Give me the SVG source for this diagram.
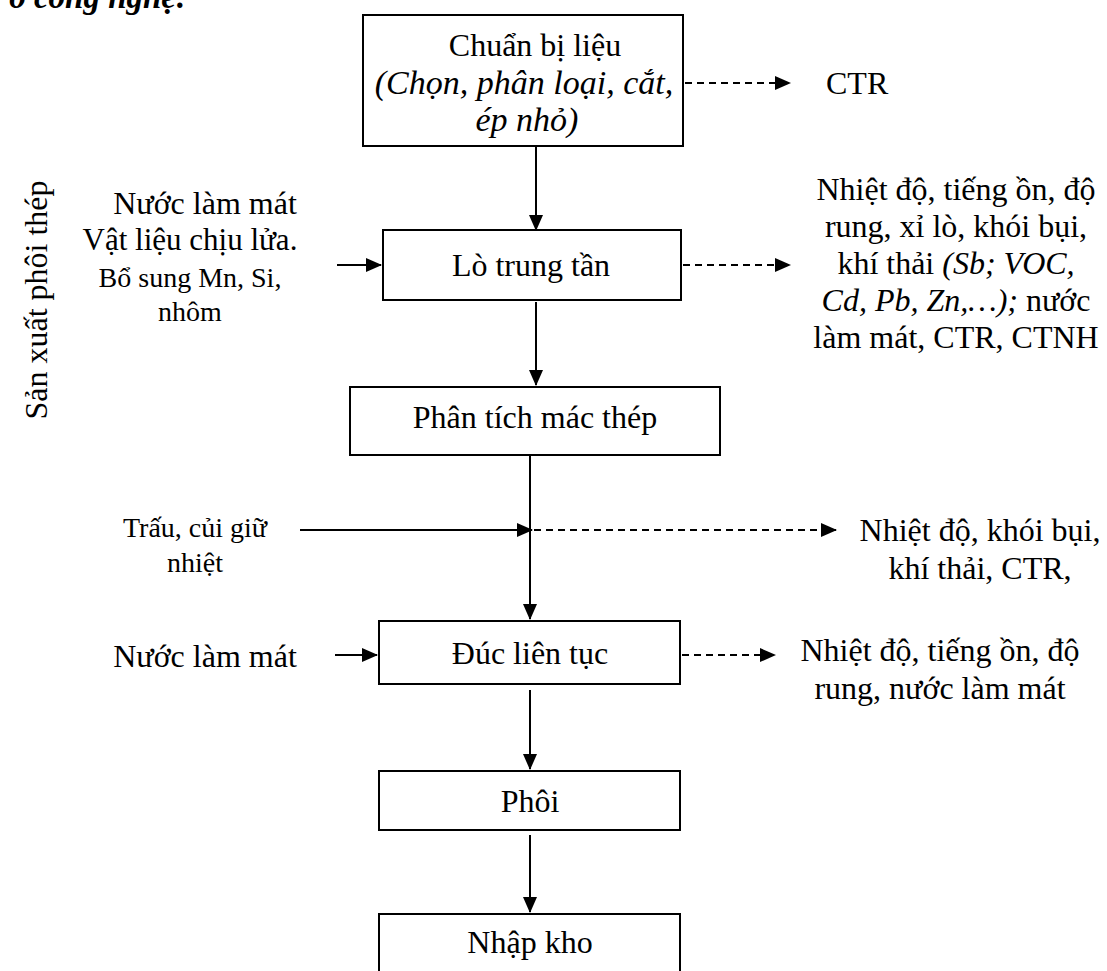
<svg xmlns="http://www.w3.org/2000/svg" width="1107" height="971" viewBox="0 0 1107 971">
<style>
text{font-family:"Liberation Serif","Times New Roman",serif;font-size:32px;fill:#000}
.c{text-anchor:middle}
.s{font-size:28px}
.i{font-style:italic}
.box{fill:#fff;stroke:#000;stroke-width:2}
.ln{fill:none;stroke:#000;stroke-width:2}
.ds{fill:none;stroke:#000;stroke-width:2;stroke-dasharray:7,5}
</style>
<defs>
<marker id="ah" markerUnits="userSpaceOnUse" markerWidth="16" markerHeight="14" refX="15" refY="7" orient="auto">
<path d="M0,0 L16,7 L0,14 Z" fill="#000"/>
</marker>
</defs>
<rect width="1107" height="971" fill="#fff"/>
<text x="187" y="8" style="font-weight:bold;font-style:italic;text-anchor:end;font-size:33px">ồ công nghệ:</text>
<text transform="translate(47,300) rotate(-90)" class="c">Sản xuất phôi thép</text>

<g id="connectors">
<line class="ln" x1="536" y1="146" x2="536" y2="230" marker-end="url(#ah)"/>
<line class="ln" x1="536" y1="302" x2="536" y2="385" marker-end="url(#ah)"/>
<line class="ln" x1="530" y1="455" x2="530" y2="619" marker-end="url(#ah)"/>
<line class="ln" x1="530" y1="690" x2="530" y2="769" marker-end="url(#ah)"/>
<line class="ln" x1="530" y1="835" x2="530" y2="912" marker-end="url(#ah)"/>
<line class="ds" x1="685" y1="83" x2="790" y2="83" marker-end="url(#ah)"/>
<line class="ln" x1="337" y1="265" x2="381" y2="265" marker-end="url(#ah)"/>
<line class="ds" x1="683" y1="265" x2="790" y2="265" marker-end="url(#ah)"/>
<line class="ln" x1="300" y1="530" x2="532" y2="530" marker-end="url(#ah)"/>
<line class="ds" x1="534" y1="530" x2="836" y2="530" marker-end="url(#ah)"/>
<line class="ln" x1="335" y1="655" x2="377" y2="655" marker-end="url(#ah)"/>
<line class="ds" x1="682" y1="655" x2="775" y2="655" marker-end="url(#ah)"/>
</g>

<g id="n1">
<rect class="box" x="363" y="15" width="320" height="131"/>
<text class="c" x="535" y="56">Chuẩn bị liệu</text>
<text class="c i" x="524" y="94" style="font-size:34px">(Chọn, phân loại, cắt,</text>
<text class="c i" x="527" y="131" style="font-size:34px">ép nhỏ)</text>
</g>
<g id="o1"><text x="826" y="94">CTR</text></g>

<g id="n2">
<rect class="box" x="383" y="230" width="298" height="70"/>
<text class="c" x="531" y="276">Lò trung tần</text>
</g>
<g id="i2">
<text class="c" x="205" y="214">Nước làm mát</text>
<text class="c" x="190" y="250" style="font-size:31px">Vật liệu chịu lửa.</text>
<text class="c s" x="190" y="287">Bổ sung Mn, Si,</text>
<text class="c s" x="190" y="321">nhôm</text>
</g>
<g id="o2">
<text class="c" x="956" y="200">Nhiệt độ, tiếng ồn, độ</text>
<text class="c" x="956" y="237">rung, xỉ lò, khói bụi,</text>
<text class="c" x="956" y="274"><tspan>khí thải </tspan><tspan class="i">(Sb; VOC,</tspan></text>
<text class="c" x="956" y="311"><tspan class="i">Cd, Pb, Zn,…);</tspan><tspan> nước</tspan></text>
<text class="c" x="956" y="348">làm mát, CTR, CTNH</text>
</g>

<g id="n3">
<rect class="box" x="350" y="387" width="370" height="68"/>
<text class="c" x="535" y="428">Phân tích mác thép</text>
</g>
<g id="i3">
<text class="c s" x="195" y="537">Trấu, củi giữ</text>
<text class="c s" x="195" y="572">nhiệt</text>
</g>
<g id="o3">
<text class="c" x="980" y="541">Nhiệt độ, khói bụi,</text>
<text class="c" x="980" y="579">khí thải, CTR,</text>
</g>

<g id="n4">
<rect class="box" x="379" y="621" width="301" height="63"/>
<text class="c" x="530" y="664">Đúc liên tục</text>
</g>
<g id="i4"><text class="c" x="205" y="667">Nước làm mát</text></g>
<g id="o4">
<text class="c" x="940" y="661">Nhiệt độ, tiếng ồn, độ</text>
<text class="c" x="940" y="699">rung, nước làm mát</text>
</g>

<g id="n5">
<rect class="box" x="379" y="771" width="301" height="59"/>
<text class="c" x="530" y="812">Phôi</text>
</g>
<g id="n6">
<rect class="box" x="379" y="914" width="301" height="80"/>
<text class="c" x="530" y="953">Nhập kho</text>
</g>
</svg>
